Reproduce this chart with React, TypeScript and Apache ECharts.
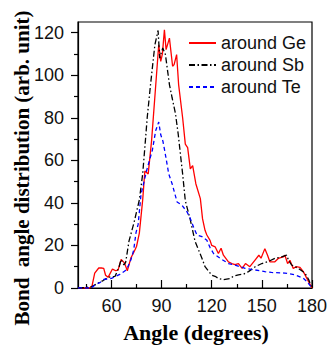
import React, { useEffect, useRef } from "react";
import * as echarts from "echarts";

const geAngles = [40, 47, 48.4, 50, 52.4, 54, 55.4, 56.5, 58, 60.6, 62.6, 64, 65.8, 67.8, 69.5, 71.7, 73.7, 75, 76.7, 78.7, 80, 82, 84, 86, 88.3, 89.5, 90.5, 91.7, 92.7, 94.7, 96.6, 97.5, 99, 100.2, 102.6, 104.2, 105.6, 107.2, 108.6, 110.5, 113.2, 114.5, 116, 117.1, 119, 120, 122.1, 124, 125.6, 127, 130, 132, 134, 136, 138.2, 140.2, 142.8, 145.8, 148.2, 149.5, 151.8, 153.4, 154.8, 157.8, 159.8, 162.8, 163.8, 165.4, 166.8, 168.8, 170.5, 172.8, 174.8, 177.4, 180];
const geValues = [0, 0, 1, 7, 9.4, 9.4, 9.2, 6, 5, 8.9, 8.1, 8.5, 13.4, 11.8, 8.1, 14.2, 17.3, 19.5, 25.8, 41.4, 55, 53.6, 69, 90, 114.3, 106.5, 110, 121.3, 112, 117.4, 104.2, 105, 109.7, 95.6, 80, 67.6, 66, 56, 57.5, 49, 42, 32.6, 27.1, 24.9, 22.4, 20, 19.3, 16.2, 18.7, 15.4, 12.3, 11.5, 11, 11.5, 9.2, 11.5, 10, 13, 15.4, 14, 18.5, 15.4, 12.3, 12.3, 13.9, 14.6, 15.4, 11.5, 13, 9.2, 10, 9.7, 7.7, 3.8, 0];

const sbAngles = [40, 48, 52, 55, 57.9, 62.2, 64.6, 65.8, 67.5, 68.5, 70.5, 73.6, 76.7, 78.7, 80.3, 81.4, 83.4, 86, 87.9, 88.9, 90.7, 92.3, 94.7, 96.3, 98.3, 100, 101.4, 102.6, 104.2, 107.2, 108.6, 110, 112.2, 114.2, 116, 118, 120.1, 122, 124, 127, 131, 133, 136, 139, 142, 146, 150, 154, 157.8, 161.8, 164.8, 166, 167.8, 171.8, 175.8, 178, 180];
const sbValues = [0, 0.5, 2.3, 3.5, 5, 5.5, 10, 13.4, 10.8, 12, 22, 31, 41.4, 53.6, 69, 80, 95.6, 114.3, 121, 108, 112.8, 109.7, 95.6, 89.4, 82, 72, 62, 53.6, 41, 32, 27, 22, 17.7, 13.9, 10, 8, 6, 5.5, 4.5, 3.9, 4.5, 5.5, 6.2, 6.5, 7.7, 10, 11.5, 12.5, 13.9, 14.6, 15.4, 13, 10.8, 9.2, 7, 4, 0];

const teAngles = [40, 48, 50.3, 53, 55.4, 60, 65, 68, 69.3, 71.7, 73.3, 74.7, 76, 77.7, 79.2, 81, 82.7, 84.5, 86.5, 88.3, 89.5, 90.8, 92, 94.3, 96.3, 99.3, 102.2, 105.2, 107, 109.4, 111.2, 114.2, 117.1, 119, 121.1, 125.1, 130, 134, 140, 145.8, 151.8, 155.7, 163.8, 169.8, 174.8, 177, 180];
const teValues = [0, 0, 1.5, 2.5, 4, 4.5, 6.4, 8, 9, 13.4, 17.7, 26, 30, 44, 49, 55, 59.8, 64.8, 74, 78, 72, 69, 64, 53.6, 49, 40.4, 38.9, 35.8, 33, 28, 24.9, 24.1, 22.4, 19, 16.2, 13.9, 11.5, 10.8, 9.2, 8.5, 7.7, 7.3, 7, 6.2, 4.6, 3, 0];

const seriesNames = ["around Ge", "around Sb", "around Te"];
const xMajorTicks = [60, 90, 120, 150, 180];
const xMinorTicks = [45, 75, 105, 135, 165];
const yMajorTicks = [0, 20, 40, 60, 80, 100, 120];
const yMinorTicks = [10, 30, 50, 70, 90, 110];
const xTitle = "Angle (degrees)";
const yTitle = "Bond  angle distribution (arb. unit)";

const pair = (xs: number[], ys: number[]) => xs.map((x, i) => [x, ys[i]]);

export default function App() {
  const ref = useRef<HTMLDivElement>(null);
  useEffect(() => {
    if (!ref.current) return;
    const chart = echarts.init(ref.current, null, { renderer: "svg" });
    const sans = "Liberation Sans, Arial, sans-serif";
    const serif = "Liberation Serif, Times New Roman, serif";
    const axisText = { color: "#111", fontFamily: sans, fontSize: 18 };
    const lineCol = { color: "#000", width: 1.2 };
    chart.setOption({
      animation: false,
      grid: { left: 78, right: 19, top: 22, bottom: 57, show: true, borderColor: "#000", borderWidth: 1.2 },
      legend: {
        orient: "vertical",
        left: 188,
        top: 34,
        padding: 0,
        itemWidth: 27,
        itemHeight: 12,
        itemGap: 4,
        itemStyle: { opacity: 0 },
        textStyle: { color: "#111", fontFamily: sans, fontSize: 18 },
        data: seriesNames,
      },
      graphic: [
        {
          type: "text",
          x: 196,
          y: 332,
          style: { text: xTitle, fill: "#000", font: `bold 22px ${serif}`, textAlign: "center", textVerticalAlign: "middle" },
        },
        {
          type: "text",
          x: 22,
          y: 168,
          rotation: Math.PI / 2,
          style: { text: yTitle, fill: "#000", font: `bold 21px ${serif}`, textAlign: "center", textVerticalAlign: "middle" },
        },
      ],
      xAxis: [
        {
          type: "value",
          min: 40,
          max: 180,
          axisLine: { lineStyle: lineCol },
          axisTick: { inside: true, length: 8, lineStyle: lineCol, customValues: xMajorTicks },
          splitLine: { show: false },
          axisLabel: { ...axisText, margin: 9, customValues: xMajorTicks },
        },
        {
          type: "value",
          min: 40,
          max: 180,
          position: "bottom",
          axisLine: { show: false },
          axisTick: { inside: true, length: 4, lineStyle: lineCol, customValues: xMinorTicks },
          splitLine: { show: false },
          axisLabel: { show: false },
        },
      ],
      yAxis: [
        {
          type: "value",
          min: 0,
          max: 125,
          axisLine: { lineStyle: lineCol },
          axisTick: { inside: false, length: 7, lineStyle: lineCol, customValues: yMajorTicks },
          splitLine: { show: false },
          axisLabel: { ...axisText, margin: 14, customValues: yMajorTicks },
        },
        {
          type: "value",
          min: 0,
          max: 125,
          position: "left",
          axisLine: { show: false },
          axisTick: { inside: false, length: 4, lineStyle: lineCol, customValues: yMinorTicks },
          splitLine: { show: false },
          axisLabel: { show: false },
        },
      ],
      series: [
        {
          name: seriesNames[0],
          type: "line",
          data: pair(geAngles, geValues),
          showSymbol: false,
          lineStyle: { color: "#ff0000", width: 1.3 },
          itemStyle: { color: "#ff0000" },
        },
        {
          name: seriesNames[1],
          type: "line",
          data: pair(sbAngles, sbValues),
          showSymbol: false,
          lineStyle: { color: "#000000", width: 1.3, type: [6, 2.5, 1.5, 2.5] },
          itemStyle: { color: "#000000" },
        },
        {
          name: seriesNames[2],
          type: "line",
          data: pair(teAngles, teValues),
          showSymbol: false,
          lineStyle: { color: "#0000ff", width: 1.3, type: [4, 3] },
          itemStyle: { color: "#0000ff" },
        },
      ],
    });
    return () => chart.dispose();
  }, []);
  return <div ref={ref} style={{ width: 331, height: 345, position: "absolute", left: 0, top: 0 }} />;
}
